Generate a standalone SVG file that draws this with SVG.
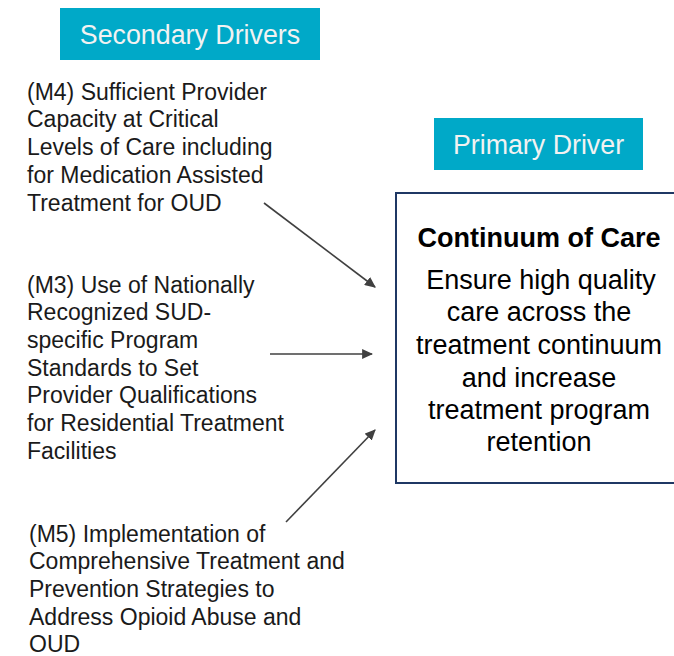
<svg xmlns="http://www.w3.org/2000/svg" width="674" height="656" viewBox="0 0 674 656">
<defs>
<style>
.hdr{fill:#00A9C8}
.hdrt{font-family:"Liberation Sans",Arial,sans-serif;font-size:26.8px;fill:#F2F2F2;text-anchor:middle}
.lt{font-family:"Liberation Sans",Arial,sans-serif;font-size:23px;fill:#1A1A1A}
.bt{font-family:"Liberation Sans",Arial,sans-serif;font-size:27px;fill:#000;text-anchor:middle}
.conn{stroke:#404040;stroke-width:1.6;fill:none;marker-end:url(#ah)}
</style>
<marker id="ah" viewBox="0 0 10 10" refX="9" refY="5" markerWidth="11" markerHeight="10" orient="auto" markerUnits="userSpaceOnUse" preserveAspectRatio="none">
<path d="M0,0 L10,5 L0,10 z" fill="#404040"/>
</marker>
</defs>
<rect width="674" height="656" fill="#FFFFFF"/>
<g id="secondary-header">
<rect class="hdr" x="60" y="8" width="260" height="52"/>
<text class="hdrt" x="190" y="44">Secondary Drivers</text>
</g>
<g id="primary-header">
<rect class="hdr" x="434" y="118" width="209" height="52"/>
<text class="hdrt" x="538.5" y="154">Primary Driver</text>
</g>
<g id="primary-driver">
<rect x="396" y="193" width="280" height="290" fill="#FFFFFF" stroke="#1F3864" stroke-width="2"/>
<text class="bt" x="539" y="247" font-weight="bold" font-size="24.5">Continuum of Care</text>
<text class="bt" x="541" y="289">Ensure high quality</text>
<text class="bt" x="539" y="321">care across the</text>
<text class="bt" x="539" y="354">treatment continuum</text>
<text class="bt" x="539" y="387">and increase</text>
<text class="bt" x="539" y="419">treatment program</text>
<text class="bt" x="539" y="451">retention</text>
</g>
<g id="m4">
<text class="lt" x="27" y="100">(M4) Sufficient Provider</text>
<text class="lt" x="27" y="127">Capacity at Critical</text>
<text class="lt" x="27" y="155">Levels of Care including</text>
<text class="lt" x="27" y="183">for Medication Assisted</text>
<text class="lt" x="27" y="211">Treatment for OUD</text>
</g>
<g id="m3">
<text class="lt" x="27" y="293">(M3) Use of Nationally</text>
<text class="lt" x="27" y="320">Recognized SUD-</text>
<text class="lt" x="27" y="348">specific Program</text>
<text class="lt" x="27" y="376">Standards to Set</text>
<text class="lt" x="27" y="403">Provider Qualifications</text>
<text class="lt" x="27" y="431">for Residential Treatment</text>
<text class="lt" x="27" y="459">Facilities</text>
</g>
<g id="m5">
<text class="lt" x="29" y="542">(M5) Implementation of</text>
<text class="lt" x="29" y="569">Comprehensive Treatment and</text>
<text class="lt" x="29" y="597">Prevention Strategies to</text>
<text class="lt" x="29" y="625">Address Opioid Abuse and</text>
<text class="lt" x="29" y="652">OUD</text>
</g>
<g id="connectors">
<line class="conn" x1="264" y1="203" x2="375" y2="287"/>
<line class="conn" x1="270" y1="354" x2="372" y2="354"/>
<line class="conn" x1="286" y1="522" x2="375" y2="430"/>
</g>
</svg>
